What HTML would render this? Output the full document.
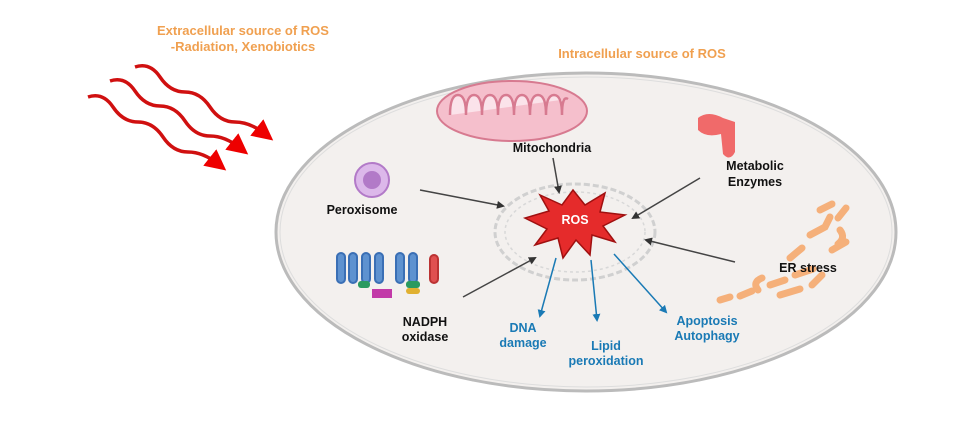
<!DOCTYPE html>
<html><head><meta charset="utf-8"><style>
body{margin:0;background:#fff;width:975px;height:431px;overflow:hidden}
svg text{font-family:"Liberation Sans",sans-serif;font-weight:bold}
</style></head><body>
<svg width="975" height="431" viewBox="0 0 975 431">
<defs>
<marker id="ra" markerWidth="6" markerHeight="6" refX="3" refY="3" orient="auto" markerUnits="strokeWidth"><path d="M0,0 L6,3 L0,6Z" fill="#e00"/></marker>
<marker id="ga" markerWidth="8" markerHeight="8" refX="6" refY="4" orient="auto" markerUnits="userSpaceOnUse"><path d="M0,0 L8,4 L0,8Z" fill="#333"/></marker>
<marker id="ba" markerWidth="8" markerHeight="8" refX="6" refY="4" orient="auto" markerUnits="userSpaceOnUse"><path d="M0,0 L8,4 L0,8Z" fill="#1a7ab5"/></marker>
</defs>
<text x="243" y="35" fill="#f0a050" font-size="13" text-anchor="middle">Extracellular source of ROS</text>
<text x="243" y="51" fill="#f0a050" font-size="13" text-anchor="middle">-Radiation, Xenobiotics</text>
<text x="642" y="58" fill="#f0a050" font-size="13" text-anchor="middle">Intracellular source of ROS</text>
<g fill="none" stroke="#d01010" stroke-width="3.5" marker-end="url(#ra)">
<path d="M135,67 q15,-5 25,10 t25,15 t25,15 t25,15 t30,12"/>
<path d="M110,81 q15,-5 25,10 t25,15 t25,15 t25,15 t30,12"/>
<path d="M88,97 q15,-5 25,10 t25,15 t25,15 t25,15 t30,12"/>
</g>
<ellipse cx="586" cy="232" rx="310" ry="159" fill="#f3f0ee" stroke="#bbb" stroke-width="3"/>
<ellipse cx="586" cy="232" rx="306" ry="155" fill="none" stroke="#ddd" stroke-width="1"/>
<ellipse cx="575" cy="232" rx="80" ry="48" fill="none" stroke="#d0d0d0" stroke-width="3" stroke-dasharray="6 3"/>
<ellipse cx="575" cy="232" rx="70" ry="40" fill="none" stroke="#d8d8d8" stroke-width="1.5" stroke-dasharray="3 3"/>
<ellipse cx="512" cy="111" rx="75" ry="30" fill="#f5bfcc" stroke="#d77a90" stroke-width="2"/>
<path d="M450,115 q0,-20 8,-20 q8,0 8,20 q0,-20 8,-20 q8,0 8,20 q0,-20 8,-20 q8,0 8,20 q0,-20 8,-20 q8,0 8,20 q0,-20 8,-20 q8,0 8,20 q0,-20 8,-20 q8,0 8,20 q0,-20 8,-20 q8,0 8,20 q0,-20 6,-16" fill="#fbe3ea" stroke="#d77a90" stroke-width="2.5"/>
<text x="552" y="152" font-size="12.5" fill="#111" text-anchor="middle">Mitochondria</text>
<circle cx="372" cy="180" r="17" fill="#dcb8ea" stroke="#b27ac8" stroke-width="2"/>
<circle cx="372" cy="180" r="9" fill="#b27ac8"/>
<text x="362" y="214" font-size="12.5" fill="#111" text-anchor="middle">Peroxisome</text>
<path d="M698,118 q10,-8 25,0 l12,4 v30 q-5,10 -12,2 l-2,-20 q-15,4 -23,-4z" fill="#f06a6a"/>
<text x="755" y="170" font-size="12.5" fill="#111" text-anchor="middle">Metabolic</text>
<text x="755" y="186" font-size="12.5" fill="#111" text-anchor="middle">Enzymes</text>
<g stroke="#f5b07a" stroke-width="7" stroke-linecap="round" fill="none">
<path d="M820,210 l12,-6"/><path d="M838,218 l8,-10"/><path d="M810,235 l15,-8 l5,-10"/><path d="M832,250 l14,-8"/>
<path d="M790,258 l12,-10"/><path d="M795,275 l18,-6"/><path d="M770,285 l15,-5"/><path d="M780,295 l20,-6"/><path d="M740,296 l12,-5"/><path d="M720,300 l10,-3"/><path d="M812,285 l10,-10"/>
<path d="M840,230 q6,8 -2,14"/><path d="M758,290 q-6,-8 4,-12"/>
</g>
<text x="808" y="272" font-size="12.5" fill="#111" text-anchor="middle">ER stress</text>
<g stroke="#3a6fb5" stroke-width="2" fill="#5e92d0">
<rect x="337" y="253" width="8" height="30" rx="4"/><rect x="349" y="253" width="8" height="30" rx="4"/>
<rect x="362" y="253" width="8" height="30" rx="4"/><rect x="375" y="253" width="8" height="30" rx="4"/>
<rect x="396" y="253" width="8" height="30" rx="4"/><rect x="409" y="253" width="8" height="30" rx="4"/>
</g>
<g stroke="#b33" stroke-width="2" fill="#e05050"><rect x="430" y="255" width="8" height="28" rx="4"/></g>
<rect x="372" y="289" width="20" height="9" fill="#c23aa8"/>
<rect x="358" y="281" width="12" height="7" rx="3" fill="#2a9a60"/>
<rect x="406" y="281" width="14" height="7" rx="3" fill="#2a9a60"/>
<rect x="406" y="288" width="14" height="6" rx="3" fill="#e0b030"/>
<text x="425" y="326" font-size="12.5" fill="#111" text-anchor="middle">NADPH</text>
<text x="425" y="341" font-size="12.5" fill="#111" text-anchor="middle">oxidase</text>
<g stroke="#444" stroke-width="1.5" marker-end="url(#ga)">
<line x1="553" y1="158" x2="559" y2="192"/>
<line x1="420" y1="190" x2="503" y2="206"/>
<line x1="700" y1="178" x2="633" y2="218"/>
<line x1="735" y1="262" x2="646" y2="240"/>
<line x1="463" y1="297" x2="535" y2="258"/>
</g>
<polygon points="573,190 585,205 605,193 600,212 625,215 603,226 615,242 592,235 590,255 576,240 563,258 558,238 535,245 547,229 525,218 549,211 540,195 562,205" fill="#e52b2b" stroke="#a01010" stroke-width="1.5"/>
<text x="575" y="224" font-size="12.5" fill="#fff" text-anchor="middle">ROS</text>
<g stroke="#1a7ab5" stroke-width="1.5" marker-end="url(#ba)">
<line x1="556" y1="258" x2="540" y2="316"/>
<line x1="591" y1="260" x2="597" y2="320"/>
<line x1="614" y1="254" x2="666" y2="312"/>
</g>
<g font-size="12.5" fill="#1a7ab5" text-anchor="middle">
<text x="523" y="332">DNA</text><text x="523" y="347">damage</text>
<text x="606" y="350">Lipid</text><text x="606" y="365">peroxidation</text>
<text x="707" y="325">Apoptosis</text><text x="707" y="340">Autophagy</text>
</g>
</svg>
</body></html>
